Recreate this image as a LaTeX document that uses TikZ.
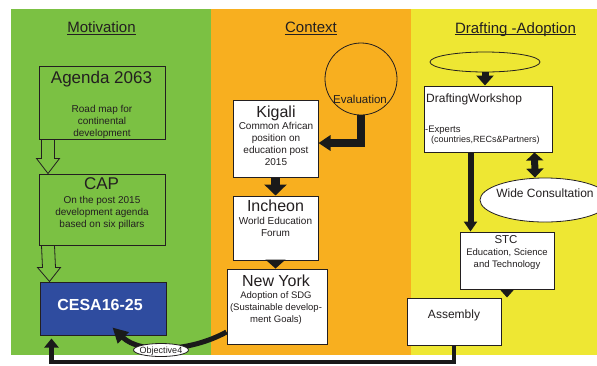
\documentclass[tikz,border=0pt]{standalone}
\usepackage{fontspec}
\setmainfont{Liberation Sans}
\usetikzlibrary{arrows.meta,shapes.geometric,calc}
\definecolor{pgreen}{HTML}{7BC143}
\definecolor{porange}{HTML}{F8AF1F}
\definecolor{pyellow}{HTML}{EEE733}
\definecolor{pblue}{HTML}{2F4C9F}
\definecolor{ink}{HTML}{231F20}
\definecolor{blk}{HTML}{1A1A1A}
\begin{document}
\begin{tikzpicture}[x=1pt,y=-1pt,
  box/.style={draw=ink, line width=1pt, fill=white, inner sep=0pt},
  gbox/.style={draw=ink, line width=1pt, inner sep=0pt},
  hd/.style={text=ink, font=\fontsize{15}{18}\selectfont, inner sep=0pt, anchor=base},
  ttl/.style={text=ink, font=\fontsize{#1}{#1}\selectfont, inner sep=0pt, anchor=base},
  sub/.style={text=ink, font=\fontsize{10}{12}\selectfont, align=center, inner sep=0pt},
  lft/.style={text=ink, inner sep=0pt, anchor=base west},
  hollow/.style={draw=ink, line width=0.8pt, line join=miter},
  thickarrow/.style={draw=blk, line width=#1},
  oval/.style={ellipse, draw=ink, line width=0.8pt, inner sep=0pt}
]
\useasboundingbox (0,0) rectangle (597,365);
\clip (0,0) rectangle (597,365);
\fill[white] (0,0) rectangle (597,365);
% panels
\fill[pgreen] (11,9) rectangle (211,355);
\fill[porange] (211,9) rectangle (411,355);
\fill[pyellow] (411,9) rectangle (597,355);

% headings
\node[hd] (motT) at (101.5,32.5) {Motivation};
\node[hd] (conT) at (311,32.5) {Context};
\node[hd] (draT) at (515.5,33) {Drafting -Adoption};
\foreach \h in {motT,conT,draT}
  \draw[ink, line width=0.9pt] ([yshift=-1.8pt]\h.base west) -- ([yshift=-1.8pt]\h.base east);

% Motivation column
\node[gbox, minimum width=126pt, minimum height=73pt] (agenda) at (102,102.5) {};
\node[ttl=17] (agendaT) at (101.5,83) {Agenda 2063};
\node[sub] (agendaS) at (102,122.4) {Road map for\\continental\\development};

\node[gbox, minimum width=126pt, minimum height=71pt] (cap) at (102,209.5) {};
\node[ttl=17] (capT) at (101.5,189) {CAP};
\node[sub] (capS) at (102,213.4) {On the post 2015\\development agenda\\based on six pillars};

\node[draw=ink, line width=1pt, fill=pblue, inner sep=0pt, minimum width=126pt, minimum height=53pt] (cesa) at (103,308.5) {};
\node[ttl=16, text=white, font=\bfseries\fontsize{16}{16}\selectfont] (cesaT) at (100,310) {CESA16-25};

\draw[hollow] ([xshift=3pt]agenda.south west) -- ([xshift=3pt,yshift=15pt]cap.north west)
  -- ([xshift=-2pt,yshift=15pt]cap.north west) -- ([xshift=9.5pt]cap.north west)
  -- ([xshift=21pt,yshift=15pt]cap.north west) -- ([xshift=16pt,yshift=15pt]cap.north west)
  -- ([xshift=16pt]agenda.south west);
\draw[hollow] ([xshift=3pt]cap.south west) -- ([xshift=3pt,yshift=14pt]cesa.north west)
  -- ([xshift=-2pt,yshift=14pt]cesa.north west) -- ([xshift=10pt]cesa.north west)
  -- ([xshift=21pt,yshift=14pt]cesa.north west) -- ([xshift=16pt,yshift=14pt]cesa.north west)
  -- ([xshift=16pt]cap.south west);

% Context column
\node[circle, draw=ink, line width=0.8pt, minimum size=72pt, inner sep=0pt] (eval) at (361,79) {};
\node[ttl=11.5] (evalT) at (360,103) {Evaluation};

\node[box, minimum width=85pt, minimum height=77pt] (kigali) at (275.5,138.5) {};
\node[ttl=16] (kigaliT) at (276,117) {Kigali};
\node[sub] (kigaliS) at (276,144.4) {Common African\\position on\\education post\\2015};

\node[box, minimum width=85pt, minimum height=64pt] (incheon) at (275.5,228) {};
\node[ttl=16] (incheonT) at (275.5,211) {Incheon};
\node[sub] (incheonS) at (275.5,227.4) {World Education\\Forum};

\node[box, minimum width=100pt, minimum height=75pt] (ny) at (277,306.5) {};
\node[ttl=16] (nyT) at (276,286) {New York};
\node[sub, font=\fontsize{9.5}{12}\selectfont] (nyS) at (276,308.4) {Adoption of SDG\\(Sustainable develop-\\ment Goals)};

\draw[thickarrow=8pt, -{Triangle[length=12pt,width=15pt]}] (eval.south) |- ([yshift=-4.5pt]kigali.east);
\draw[thickarrow=9pt, -{Triangle[length=11pt,width=22pt]}] (kigali.south) -- (incheon.north);
\draw[thickarrow=1pt, -{Triangle[length=9pt,width=20pt]}] (incheon.south) -- (incheon.south |- ny.north);

% Drafting column
\node[oval, minimum width=110pt, minimum height=20pt] (draft) at (485,62) {};
\node[box, minimum width=128pt, minimum height=66pt] (dw) at (488,119) {};
\node[lft, font=\fontsize{12}{12}\selectfont] (dwT) at (426,102) {DraftingWorkshop};
\node[lft, font=\fontsize{9.5}{12}\selectfont] (dwE) at (425,132) {-Experts};
\node[lft, font=\fontsize{9}{12}\selectfont] (dwP) at (431,142) {(countries,RECs\&Partners)};

\node[box, minimum width=94pt, minimum height=57pt] (stc) at (507,260.5) {};
\node[ttl=11.5] (stcT) at (506,243) {STC};
\node[sub, font=\fontsize{9.5}{12.5}\selectfont] (stcS) at (507,259) {Education, Science\\and Technology};

\node[box, minimum width=94pt, minimum height=47pt] (assembly) at (454,321.5) {};
\node[ttl=12] (assemblyT) at (454,318) {Assembly};

\draw[thickarrow=7pt, -{Triangle[length=10pt,width=17pt]}] (draft.south) -- (draft.south |- dw.north);
\draw[thickarrow=6pt, -{Triangle[length=10pt,width=13pt]}] ([xshift=47pt]dw.south west) -- ([xshift=11pt]stc.north west);
\draw[thickarrow=1pt, -{Triangle[length=8pt,width=14pt]}] (stc.south) -- (stc.south |- assembly.north);

\node[oval, fill=white, minimum width=130pt, minimum height=44pt] (wide) at (545,200) {};
\node[ttl=12] (wideT) at (545,197) {Wide Consultation};
\draw[thickarrow=7pt, {Triangle[length=8pt,width=17pt]}-{Triangle[length=9pt,width=17pt]}] ([xshift=111pt]dw.south west) -- ([xshift=-10pt]wide.north);

% return connectors
\draw[thickarrow=4.5pt, -{Triangle[length=9pt,width=14pt]}] (assembly.south) -- ++(0,16.5) -| ([xshift=12pt,yshift=-3pt]cesa.south west);
\draw[thickarrow=5pt, -{Triangle[length=15pt,width=15pt]}] ([yshift=-25.5pt]ny.west) .. controls (190,352) and (140,354) .. ([xshift=73pt,yshift=8pt]cesa.south west);
\node[oval, fill=white, minimum width=55pt, minimum height=13pt] (obj) at (161,350) {};
\node[ttl=9] (objT) at (161,353) {Objective4};
\end{tikzpicture}
\end{document}
